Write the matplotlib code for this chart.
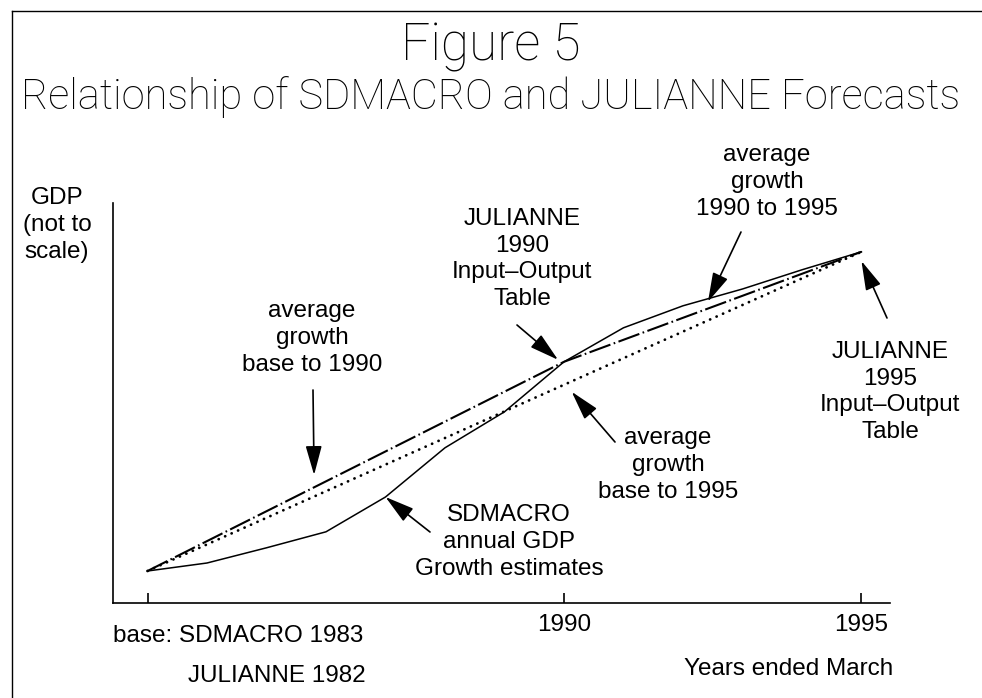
import matplotlib
matplotlib.use("Agg")
import matplotlib.pyplot as plt
from matplotlib.lines import Line2D

plt.rcParams["font.family"] = ["Liberation Sans", "DejaVu Sans"]
plt.rcParams["lines.scale_dashes"] = False

W, H = 982, 698

# ── data (GDP index, not to scale) ──────────────────────────────────────────
years = [1983, 1984, 1985, 1986, 1987, 1988, 1989, 1990, 1991, 1992, 1993, 1994, 1995]
sdmacro_gdp = [100.0, 102.0, 105.8, 109.8, 118.5, 130.8, 139.8, 152.3,
               160.8, 166.3, 170.5, 175.3, 179.8]
io_years = [1983, 1990, 1995]
io_gdp = [100.0, 152.3, 179.8]
avg_years = [1983, 1995]
avg_gdp = [100.0, 179.8]
tick_years = [1983, 1990, 1995]
tick_labels = ["", "1990", "1995"]


def fp(x, y):
    # pixel position -> figure fraction
    return (x / W, 1 - y / H)


fig = plt.figure(figsize=(W / 100, H / 100), dpi=100)
fig.patch.set_facecolor("white")

# frame round the page (left and top edges only visible in the scan)
fig.add_artist(Line2D([12 / W, 12 / W], [0, 1 - 11 / H], color="black", lw=1.0))
fig.add_artist(Line2D([12 / W, 1], [1 - 11 / H, 1 - 11 / H], color="black", lw=1.0))

ax = fig.add_axes([113 / W, 1 - 603 / H, (890 - 113) / W, (603 - 203) / H])
ax.set_xlim(1982.42, 1995.48)
ax.set_ylim(92, 192)
for s in ("top", "right"):
    ax.spines[s].set_visible(False)
for s in ("left", "bottom"):
    ax.spines[s].set_linewidth(1.2)
ax.set_yticks([])
ax.set_xticks(tick_years)
ax.set_xticklabels(tick_labels, fontsize=17.5)
ax.tick_params(axis="x", direction="in", length=7, width=1.2, pad=8)

ax.plot(years, sdmacro_gdp, color="black", lw=1.1)
ax.plot(io_years, io_gdp, color="black", lw=1.5, ls=(0, (16, 2.5, 1.2, 2.5)))
ax.plot(avg_years, avg_gdp, color="black", lw=2.0, ls=(0, (0.1, 5.0)),
        dash_capstyle="round")

# ── titles ──────────────────────────────────────────────────────────────────
fig.text(*fp(491, 47), "Figure 5", fontsize=37, family="Roboto", weight="light",
         ha="center", va="center")
fig.text(*fp(491, 97), "Relationship of SDMACRO and JULIANNE Forecasts",
         fontsize=30, family="Roboto", weight="light", ha="center", va="center")

# ── labels ──────────────────────────────────────────────────────────────────
FS = 17.5


def lab(x, y, s, ha="center"):
    fig.text(*fp(x, y), s, fontsize=FS, ha=ha, va="center",
             multialignment="center", linespacing=1.28)


lab(57, 225, "GDP\n(not to\nscale)")
lab(312, 338, "average\ngrowth\nbase to 1990")
lab(522, 259, "JULIANNE\n1990\nInput\u2013Output\nTable")
lab(767, 182, "average\ngrowth\n1990 to 1995")
lab(890, 392, "JULIANNE\n1995\nInput\u2013Output\nTable")
lab(668, 465, "average\ngrowth\nbase to 1995")
lab(509, 542, "SDMACRO\nannual GDP\nGrowth estimates")
lab(113, 636, "base: SDMACRO 1983", ha="left")
lab(366, 676, "JULIANNE 1982", ha="right")
lab(893, 669, "Years ended March", ha="right")

# ── arrows ──────────────────────────────────────────────────────────────────
AP = dict(arrowstyle="-|>,head_length=0.9,head_width=0.25", color="black",
          lw=1.2, mutation_scale=20, shrinkA=0, shrinkB=0)


def arrow(tip, tail):
    ax.annotate("", xy=tip, xycoords="data", xytext=fp(*tail),
                textcoords="figure fraction", arrowprops=AP)


arrow((1985.8, 124.0), (313, 390))
arrow((years[4], sdmacro_gdp[4]), (430, 532))
arrow((1989.9, 152.8), (517, 325))
arrow((1992.42, 167.3), (741, 232))
arrow((1990.13, 144.8), (615, 442))
arrow((1995.0, 177.5), (887, 318))

fig.savefig("out.png", dpi=100)
